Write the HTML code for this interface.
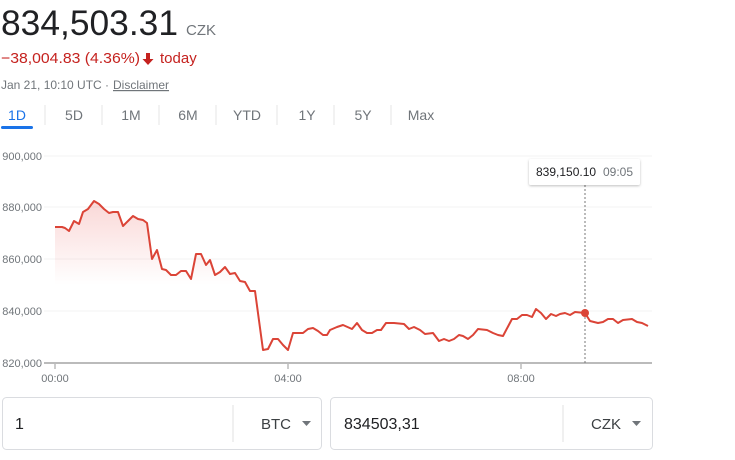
<!DOCTYPE html>
<html><head><meta charset="utf-8"><style>
body{margin:0;width:735px;height:455px;background:#fff;overflow:hidden;font-family:"Liberation Sans",Arial,sans-serif}
</style></head><body>
<svg width="735" height="455" viewBox="0 0 735 455" xmlns="http://www.w3.org/2000/svg" font-family="Liberation Sans, Arial, sans-serif">
<defs>
<linearGradient id="g" gradientUnits="userSpaceOnUse" x1="0" y1="200" x2="0" y2="285">
<stop offset="0" stop-color="#e53935" stop-opacity="0.2"/>
<stop offset="1" stop-color="#e53935" stop-opacity="0"/>
</linearGradient>
<filter id="sh" x="-10%" y="-30%" width="120%" height="170%"><feDropShadow dx="0" dy="1" stdDeviation="1.2" flood-opacity="0.25"/></filter>
</defs>
<text x="1" y="35" font-size="35" fill="#202124" textLength="177" lengthAdjust="spacingAndGlyphs">834,503.31</text>
<text x="186" y="35" font-size="15" fill="#70757a">CZK</text>
<text x="1" y="63" font-size="15" fill="#c5221f" textLength="139" lengthAdjust="spacingAndGlyphs">−38,004.83 (4.36%)</text>
<path d="M146 53v6h-3.5l5.5 6 5.5-6h-3.5v-6z" fill="#c5221f"/>
<text x="160" y="63" font-size="15" fill="#c5221f">today</text>
<text x="1" y="89" font-size="12" fill="#70757a">Jan 21, 10:10 UTC · </text>
<text x="113" y="89" font-size="12" fill="#70757a" text-decoration="underline">Disclaimer</text>
<g font-size="14" fill="#70757a" text-anchor="middle">
<text x="17" y="120" fill="#1a73e8">1D</text><text x="74" y="120">5D</text><text x="131" y="120">1M</text><text x="188" y="120">6M</text><text x="247" y="120">YTD</text><text x="307" y="120">1Y</text><text x="363" y="120">5Y</text><text x="421" y="120">Max</text>
</g>
<g stroke="#e6e6e6"><line x1="45" y1="105" x2="45" y2="125"/><line x1="102" y1="105" x2="102" y2="125"/><line x1="159" y1="105" x2="159" y2="125"/><line x1="216" y1="105" x2="216" y2="125"/><line x1="277" y1="105" x2="277" y2="125"/><line x1="334" y1="105" x2="334" y2="125"/><line x1="391" y1="105" x2="391" y2="125"/></g>
<rect x="1" y="126" width="32" height="3" rx="1.5" fill="#1a73e8"/>
<g stroke="#f3f3f3"><line x1="44" y1="156" x2="652" y2="156"/><line x1="44" y1="207" x2="652" y2="207"/><line x1="44" y1="259" x2="652" y2="259"/><line x1="44" y1="311" x2="652" y2="311"/></g>
<g font-size="11" fill="#70757a" text-anchor="end"><text x="42" y="160">900,000</text><text x="42" y="211">880,000</text><text x="42" y="263">860,000</text><text x="42" y="315">840,000</text><text x="42" y="367">820,000</text></g>
<path d="M55,227 62,227 65,228 69,231 74,221 79,224 83,212 88,209 94,201 99,204 104,209 109,213 113,212 118,212 123,226 128,221 133,216 138,219 143,220 147,223 152,259 157,250 162,269 166,270 171,275 176,275 181,271 186,271 191,279 196,254 201,254 206,265 210,260 215,275 220,272 225,267 230,274 235,273 240,281 245,282 250,291 255,291 263,350 268,349 273,339 278,339 283,345 288,350 293,333 298,333 303,333 308,329 313,328 318,331 323,335 327,335 330,330 337,327 343,325 352,329 357,323 362,330 367,333 372,333 377,330 381,330 386,323 394,323 404,324 409,329 414,327 420,330 425,334 433,333 439,341 444,339 449,341 454,339 459,335 463,336 468,339 473,335 478,329 487,330 493,333 498,335 503,336 512,319 517,319 522,315 527,315 532,317 536,309 541,313 546,319 551,314 556,316 560,314 565,313 570,315 575,312 585,313 590,321 598,323 603,322 608,319 613,319 618,323 623,320 632,319 637,322 642,323 648,326 V363 H55Z" fill="url(#g)"/>
<polyline fill="none" stroke="#db4437" stroke-width="2" stroke-linejoin="round" points="55,227 62,227 65,228 69,231 74,221 79,224 83,212 88,209 94,201 99,204 104,209 109,213 113,212 118,212 123,226 128,221 133,216 138,219 143,220 147,223 152,259 157,250 162,269 166,270 171,275 176,275 181,271 186,271 191,279 196,254 201,254 206,265 210,260 215,275 220,272 225,267 230,274 235,273 240,281 245,282 250,291 255,291 263,350 268,349 273,339 278,339 283,345 288,350 293,333 298,333 303,333 308,329 313,328 318,331 323,335 327,335 330,330 337,327 343,325 352,329 357,323 362,330 367,333 372,333 377,330 381,330 386,323 394,323 404,324 409,329 414,327 420,330 425,334 433,333 439,341 444,339 449,341 454,339 459,335 463,336 468,339 473,335 478,329 487,330 493,333 498,335 503,336 512,319 517,319 522,315 527,315 532,317 536,309 541,313 546,319 551,314 556,316 560,314 565,313 570,315 575,312 585,313 590,321 598,323 603,322 608,319 613,319 618,323 623,320 632,319 637,322 642,323 648,326"/>
<line x1="44" y1="363" x2="652" y2="363" stroke="#bbb" stroke-width="2"/>
<g stroke="#999"><line x1="55" y1="364" x2="55" y2="369"/><line x1="288" y1="364" x2="288" y2="369"/><line x1="521" y1="364" x2="521" y2="369"/></g>
<g font-size="11" fill="#70757a" text-anchor="middle"><text x="55" y="382">00:00</text><text x="288" y="382">04:00</text><text x="521" y="382">08:00</text></g>
<line x1="585" y1="185" x2="585" y2="363" stroke="#777" stroke-dasharray="2,2"/>
<circle cx="585" cy="313" r="4" fill="#db4437"/>
<rect x="529" y="159" width="111" height="26" rx="2" fill="#fff" filter="url(#sh)"/>
<text x="536" y="176" font-size="12" fill="#202124">839,150.10</text>
<text x="603" y="176" font-size="12" fill="#70757a">09:05</text>
<g fill="#fff" stroke="#dadce0"><rect x="2.5" y="397.5" width="319" height="52" rx="4"/><rect x="330.5" y="397.5" width="322" height="52" rx="4"/></g>
<g stroke="#e0e0e0"><line x1="233" y1="405" x2="233" y2="442"/><line x1="563" y1="405" x2="563" y2="442"/></g>
<g font-size="16" fill="#202124"><text x="15" y="429">1</text><text x="344" y="429">834503,31</text></g>
<g font-size="15" fill="#3c4043"><text x="261" y="429">BTC</text><text x="591" y="429">CZK</text></g>
<g fill="#70757a"><path d="M302 421h9l-4.5 5z"/><path d="M632 421h9l-4.5 5z"/></g>
</svg>
</body></html>
